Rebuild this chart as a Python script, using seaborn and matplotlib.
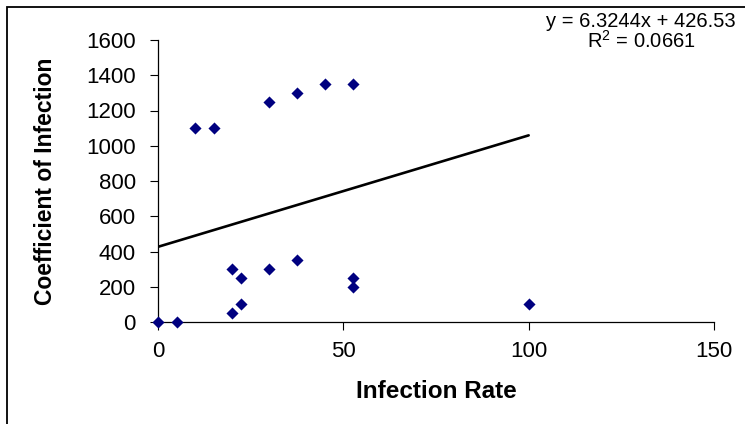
import numpy as np
import pandas as pd
import matplotlib
matplotlib.use("Agg")
import matplotlib.pyplot as plt
from matplotlib.patches import Rectangle
import seaborn as sns

# ---- data ----
infection_rate = [0, 5, 10, 15, 20, 20, 22.5, 22.5, 30, 30, 37.5, 37.5, 45, 52.5, 52.5, 52.5, 100]
coefficient = [0, 0, 1100, 1100, 300, 50, 250, 100, 1250, 300, 1300, 350, 1350, 1350, 250, 200, 100]
trend_slope = 6.3244
trend_intercept = 426.53
r_squared = 0.0661
x_ticks = [0, 50, 100, 150]
y_ticks = [0, 200, 400, 600, 800, 1000, 1200, 1400, 1600]

sns.set_style("white")
plt.rcParams["font.family"] = ["Liberation Sans", "DejaVu Sans"]
plt.rcParams["mathtext.fontset"] = "custom"
plt.rcParams["mathtext.rm"] = "Liberation Sans"
plt.rcParams["mathtext.it"] = "Liberation Sans"
plt.rcParams["text.color"] = "black"
plt.rcParams["axes.labelcolor"] = "black"

W, H = 745, 424
fig = plt.figure(figsize=(W / 100, H / 100), dpi=100)
fig.patch.set_facecolor("white")

# outer chart-area border (left and top visible)
fig.patches.append(Rectangle((7 / W, -0.05), 1.2, 1 - 7 / H + 0.05,
                             transform=fig.transFigure, fill=False,
                             edgecolor="black", linewidth=1.3, zorder=0))

ax = fig.add_axes([158 / W, 1 - 322 / H, (714 - 158) / W, (322 - 40) / H])

df = pd.DataFrame({"Infection Rate": infection_rate, "Coefficient of Infection": coefficient})
sns.scatterplot(data=df, x="Infection Rate", y="Coefficient of Infection", ax=ax,
                marker="D", s=38, color="#000080", edgecolor="#000080",
                linewidth=0, clip_on=False, zorder=3)

x_line = np.array([min(infection_rate), max(infection_rate)])
sns.lineplot(x=x_line, y=trend_intercept + trend_slope * x_line, ax=ax,
             color="black", linewidth=1.9, zorder=2)

ax.set_xlim(0, 150)
ax.set_ylim(0, 1600)
ax.set_xticks(x_ticks)
ax.set_yticks(y_ticks)
ax.tick_params(axis="both", which="major", labelsize=16, colors="black",
               direction="out", length=5.5, width=0.8, left=True, bottom=True)
ax.tick_params(axis="x", pad=8.5)
ax.tick_params(axis="y", pad=10.5)

for side in ["top", "right"]:
    ax.spines[side].set_visible(False)
for side in ["left", "bottom"]:
    ax.spines[side].set_color("black")
    ax.spines[side].set_linewidth(0.9)

ax.set_xlabel("Infection Rate", fontsize=17.5, fontweight="bold")
ax.set_ylabel("Coefficient of Infection", fontsize=16.5, fontweight="bold")
ax.xaxis.set_label_coords(0.5, (322 - 380) / (322 - 40))
ax.yaxis.set_label_coords((57 - 158) / (714 - 158), 0.5)

fig.text(641 / W, 1 - 27 / H, f"y = {trend_slope}x + {trend_intercept}",
         ha="center", va="baseline", fontsize=14.5)
fig.text(641 / W, 1 - 48 / H, f"R$^{{2}}$ = {r_squared}",
         ha="center", va="baseline", fontsize=14.5)

fig.savefig("out.png", dpi=100, facecolor="white")
